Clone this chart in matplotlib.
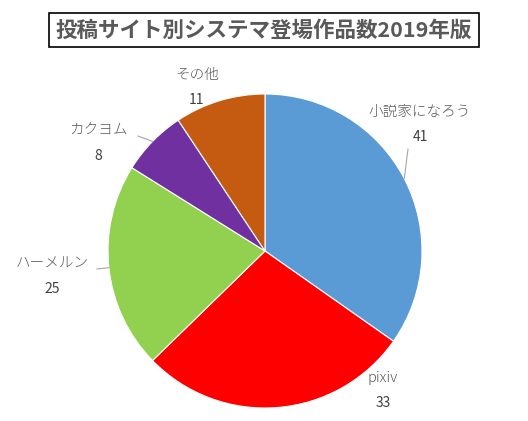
import matplotlib.pyplot as plt
import numpy as np

plt.rcParams['font.family'] = ['Noto Sans CJK JP', 'DejaVu Sans']

# データ
labels = ["小説家になろう", "pixiv", "ハーメルン", "カクヨム", "その他"]
values = [41, 33, 25, 8, 11]
colors = ["#5B9BD5", "#FF0000", "#92D050", "#7030A0", "#C55A11"]

# ラベル位置 (画像ピクセル座標, 上原点)
label_pos = [(420, 112), (383, 378), (52, 264), (98, 131), (197, 75)]
leader = [True, False, True, True, False]

W, H = 528, 421
fig = plt.figure(figsize=(W / 100, H / 100), dpi=100)
ax = fig.add_axes([0, 0, 1, 1])
ax.set_xlim(0, W)
ax.set_ylim(0, H)
ax.axis("off")

cx, cy, r = 265, H - 251, 157
wedges, _ = ax.pie(values, colors=colors, startangle=90, counterclock=False,
                   center=(cx, cy), radius=r, frame=True,
                   wedgeprops=dict(edgecolor="white", linewidth=0.8))
ax.set_xlim(0, W)
ax.set_ylim(0, H)
ax.set_aspect("equal")
ax.axis("off")

for w, lab, v, (lx, ly), ld in zip(wedges, labels, values, label_pos, leader):
    ax.text(lx, H - ly, lab, ha="center", va="center", fontsize=10.5,
            color="#595959", fontweight="light")
    ax.text(lx, H - ly - 25, str(v), ha="center", va="center", fontsize=10,
            color="#404040")
    if ld:
        mid = np.deg2rad((w.theta1 + w.theta2) / 2)
        ex, ey = cx + r * np.cos(mid), cy + r * np.sin(mid)
        if lx > cx:
            sx, sy = lx - 12, H - ly - 37
        else:
            sx, sy = lx + 40 if lab == "カクヨム" else lx + 45, H - ly - 5
        ax.plot([sx, ex], [sy, ey], color="#A6A6A6", lw=0.8)

# タイトル
ax.text(264, H - 30, "投稿サイト別システマ登場作品数2019年版", ha="center", va="center",
        fontsize=15.5, fontweight="bold", color="#595959",
        bbox=dict(boxstyle="square,pad=0.3", fc="white", ec="black", lw=1.2))

fig.savefig("out.png", dpi=100, facecolor="white")
